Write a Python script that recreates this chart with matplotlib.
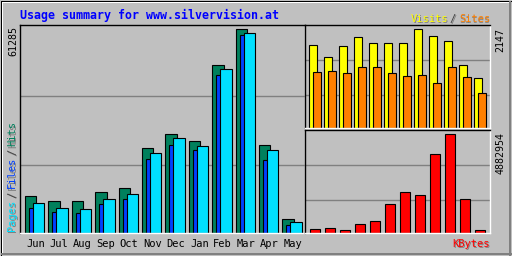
import matplotlib
matplotlib.use("Agg")
import matplotlib.pyplot as plt
from matplotlib.transforms import blended_transform_factory

# monthly usage, Jun .. May
months = ['Jun', 'Jul', 'Aug', 'Sep', 'Oct', 'Nov', 'Dec', 'Jan', 'Feb', 'Mar', 'Apr', 'May']
hits = [11040, 9540, 9540, 12245, 13450, 25480, 29690, 27590, 50450, 61285, 26390, 4120]
files = [7520, 6230, 5930, 8635, 10230, 22170, 26390, 24880, 47450, 59570, 21870, 2500]
pages = [8940, 7430, 7130, 10140, 11640, 23980, 28490, 26080, 49250, 60080, 24880, 3220]
visits = [1798, 1537, 1777, 1973, 1842, 1842, 1842, 2147, 1995, 1886, 1362, 1079]
sites = [1210, 1232, 1188, 1319, 1319, 1188, 1123, 1144, 970, 1319, 1101, 752]
kbytes = [209000, 259000, 159000, 457000, 607000, 1452000, 2049000, 1900000,
          3889000, 4882954, 1701000, 159000]

title = "Usage summary for www.silvervision.at"

BG = '#C0C0C0'
GRID = '#808080'
C_HITS, C_FILES, C_PAGES = '#00805C', '#0040FF', '#00E0FF'
C_VISITS, C_SITES, C_KB = '#FFFF00', '#FF8000', '#FF0000'
MONO = 'DejaVu Sans Mono'
FS = 7.5

W, H = 512, 256
fig = plt.figure(figsize=(W / 100, H / 100), dpi=100)
fig.patch.set_facecolor(BG)

# background axes in pixel coords (y down) for frame and labels
bg = fig.add_axes([0, 0, 1, 1], zorder=-1)
bg.set_xlim(0, W)
bg.set_ylim(H, 0)
bg.axis('off')

# outer bevel
bg.plot([0.5, W - 0.5, W - 0.5, 0.5, 0.5], [0.5, 0.5, H - 0.5, H - 0.5, 0.5], color='black', lw=0.72)
bg.plot([1.5, W - 2], [1.5, 1.5], color='white', lw=0.72)
bg.plot([1.5, 1.5], [1.5, H - 2], color='white', lw=0.72)
bg.plot([2, W - 1.5], [H - 2, H - 2], color=GRID, lw=1.44)
bg.plot([W - 2, W - 2], [2, H - 1.5], color=GRID, lw=1.44)


def px_axes(x0, y0, x1, y1):
    ax = fig.add_axes([x0 / W, 1 - y1 / H, (x1 - x0) / W, (y1 - y0) / H])
    ax.set_facecolor(BG)
    ax.set_xticks([])
    ax.set_yticks([])
    for side in ('left', 'top'):
        ax.spines[side].set_color('black')
    for side in ('right', 'bottom'):
        ax.spines[side].set_color('white')
    for sp in ax.spines.values():
        sp.set_linewidth(1.0)
    return ax


def grid(ax, top):
    for f in (0.325, 0.66):
        ax.axhline(top * f, color=GRID, lw=1.0, zorder=1)


def stext(x, y, s, color, **kw):
    bg.text(x + 1, y + 1, s, color=GRID, family=MONO, fontsize=FS, **kw)
    bg.text(x, y, s, color=color, family=MONO, fontsize=FS, **kw)


x = list(range(len(months)))
edge = dict(edgecolor='black', linewidth=0.8, align='edge', zorder=2)

# main chart: hits / files / pages
ax1 = px_axes(20, 25, 305, 233)
top1 = 61285 * 208 / 203.7
ax1.set_xlim(-5 / 23.4, 280 / 23.4)
ax1.set_ylim(0, top1)
grid(ax1, top1)
ax1.bar(x, hits, width=0.49, color=C_HITS, **edge)
ax1.bar([i + 0.171 for i in x], files, width=0.49, color=C_FILES, **edge)
ax1.bar([i + 0.342 for i in x], pages, width=0.49, color=C_PAGES, **edge)

# visits / sites
ax2 = px_axes(305, 25, 490, 128)
top2 = 2147 * 103 / 99
ax2.set_xlim(-4.3 / 15, 180.7 / 15)
ax2.set_ylim(0, top2)
grid(ax2, top2)
ax2.bar(x, visits, width=0.5, color=C_VISITS, **edge)
ax2.bar([i + 0.267 for i in x], sites, width=0.5, color=C_SITES, **edge)

# kbytes
ax3 = px_axes(305, 130, 490, 233)
top3 = 4882954 * 103 / 98.7
ax3.set_xlim(-5.3 / 15, 179.7 / 15)
ax3.set_ylim(0, top3)
grid(ax3, top3)
ax3.bar(x, kbytes, width=0.63, color=C_KB, **edge)

# texts
bg.text(20, 19.5, title, color='#0000FF', family=MONO, fontsize=8.4,
        fontweight='bold', va='baseline', ha='left')

tr = blended_transform_factory(ax1.transData, bg.transData)
for i, m in enumerate(months):
    ax1.text(i + 0.45, 247, m, transform=tr, ha='center', va='baseline',
             family=MONO, fontsize=FS, color='black', clip_on=False)

stext(411, 22, "Visits", C_VISITS, ha='left', va='baseline')
stext(453, 22, "/", '#404040', ha='center', va='baseline')
stext(490, 22, "Sites", C_SITES, ha='right', va='baseline')
stext(490, 247, "KBytes", C_KB, ha='right', va='baseline')

for s, yb, c in [("Pages", 231, C_PAGES), ("/", 197.5, '#404040'), ("Files", 188.5, C_FILES),
                 ("/", 155, '#404040'), ("Hits", 146.5, C_HITS)]:
    stext(12, yb, s, c, rotation=90, ha='center', va='bottom')

bg.text(13.5, 26.5, "61285", rotation=90, ha='center', va='top', family=MONO,
        fontsize=7.2, color='black')
bg.text(500, 27.5, "2147", rotation=90, ha='center', va='top', family=MONO,
        fontsize=7.2, color='black')
bg.text(500.5, 131.5, "4882954", rotation=90, ha='center', va='top', family=MONO,
        fontsize=7.2, color='black')

fig.savefig("out.png", dpi=100, facecolor=BG)
